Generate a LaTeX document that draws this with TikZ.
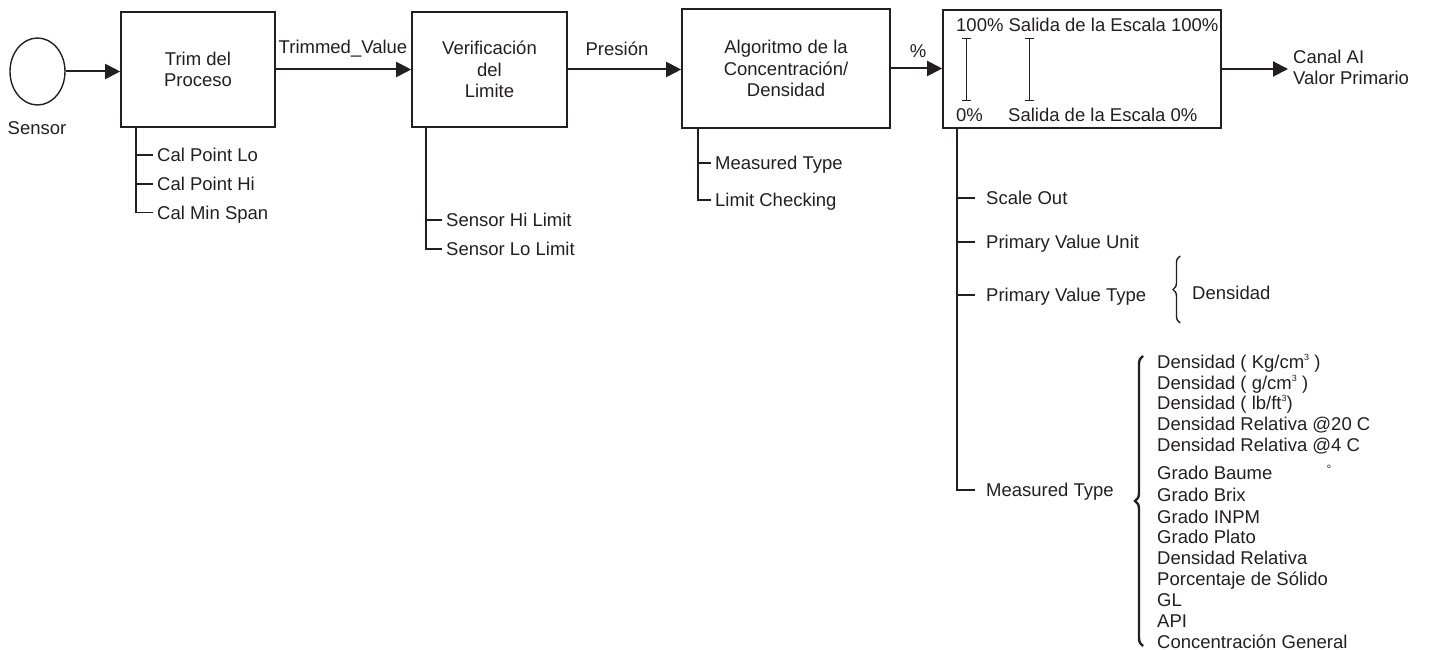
\documentclass[tikz,border=0pt]{standalone}
\usepackage{fontspec}
\setmainfont{Liberation Sans}
\usetikzlibrary{arrows.meta,decorations.pathreplacing,shapes.geometric}
\definecolor{ink}{HTML}{231F20}
\begin{document}
\begin{tikzpicture}[x=1pt,y=-1pt,
  every node/.style={font=\fontsize{18.5}{21.5}\selectfont, text=ink},
  box/.style={draw=ink, line width=1.6pt, rectangle, align=center, inner sep=0pt},
  arr/.style={draw=ink, line width=2pt, -{Triangle[length=15pt,width=15pt]}},
  branch/.style={draw=ink, line width=1.4pt},
  lbl/.style={anchor=west, inner xsep=4pt, inner ysep=0pt, text height=13pt, text depth=0pt},
  lblw/.style={anchor=west, inner xsep=11pt, inner ysep=0pt, text height=13pt, text depth=0pt},
  item/.style={anchor=west, inner sep=0pt, text height=13pt, text depth=0pt},
  ibar/.style={draw=ink, line width=0.8pt, {Bar[width=9pt]}-{Bar[width=9pt]}},
  bracestyle/.style={draw=ink, decorate}
]
\path[use as bounding box] (0,0) rectangle (1432,650);

% Sensor
\node[draw=ink, line width=1.4pt, ellipse, minimum width=55pt, minimum height=67pt, inner sep=0pt] (sensor) at (37.5,71.5) {};
\node (sensorlbl) at (37,128) {Sensor};

% Boxes
\node[box, minimum width=154pt, minimum height=115pt] (trim) at (198,69.5) {Trim del\\Proceso};
\node[box, minimum width=155pt, minimum height=115pt] (verif) at (489.5,69.5) {Verificación\\del\\Limite};
\node[box, minimum width=208pt, minimum height=119pt] (algo) at (786,68.5) {Algoritmo de la\\Concentración/\\Densidad};
\node[box, minimum width=278pt, minimum height=118pt] (scale) at (1082,69) {};

% Box 4 contents
\node[item] (top100) at (956,25) {100\% Salida de la Escala 100\%};
\node[item] (bot0) at (956,115) {0\%};
\node[item] (bot0b) at (1008,115) {Salida de la Escala 0\%};
\coordinate (ia) at (966,38);
\coordinate (ib) at (966,101);
\coordinate (ic) at (1029,38);
\coordinate (id) at (1029,101);
\draw[ibar] (ia) -- (ib);
\draw[ibar] (ic) -- (id);

% Main flow arrows
\draw[arr] (sensor.east) -- (sensor.east -| trim.west);
\draw[arr] (trim.east) -- (trim.east -| verif.west);
\draw[arr] (verif.east) -- (verif.east -| algo.west);
\draw[arr] (algo.east) -- (algo.east -| scale.west);
\coordinate (outtip) at (1288,69);
\draw[arr] (scale.east) -- (scale.east -| outtip);

\node (tv) at (343,49) {Trimmed\_Value};
\node (pres) at (617,49) {Presión};
\node (pct) at (918,51) {\%};
\node[anchor=west, align=left, inner xsep=4pt] (canal) at (1289,67.5) {Canal AI\\Valor Primario};

% Branch of box 1
\coordinate (v1) at (136,127);
\node[lbl] (cplo) at (153,155) {Cal Point Lo};
\node[lbl] (cphi) at (153,184) {Cal Point Hi};
\node[lbl] (cpms) at (153,212.5) {Cal Min Span};
\draw[branch] (v1) -- (v1 |- cpms.west) -- (cpms.west);
\draw[branch] (v1 |- cplo.west) -- (cplo.west);
\draw[branch] (v1 |- cphi.west) -- (cphi.west);

% Branch of box 2
\coordinate (v2) at (426,127);
\node[lbl] (shi) at (442,220) {Sensor Hi Limit};
\node[lbl] (slo) at (442,249) {Sensor Lo Limit};
\draw[branch] (v2) -- (v2 |- slo.west) -- (slo.west);
\draw[branch] (v2 |- shi.west) -- (shi.west);

% Branch of box 3
\coordinate (v3) at (698,128);
\node[lbl] (mt1) at (711,163) {Measured Type};
\node[lbl] (lc) at (711,200) {Limit Checking};
\draw[branch] (v3) -- (v3 |- lc.west) -- (lc.west);
\draw[branch] (v3 |- mt1.west) -- (mt1.west);

% Branch of box 4
\coordinate (v4) at (957,128);
\node[lblw] (so) at (975,198) {Scale Out};
\node[lblw] (pvu) at (975,242) {Primary Value Unit};
\node[lblw] (pvt) at (975,295) {Primary Value Type};
\node[lblw] (mt2) at (975,490) {Measured Type};
\draw[branch] (v4) -- (v4 |- mt2.west) -- (mt2.west);
\draw[branch] (v4 |- so.west) -- (so.west);
\draw[branch] (v4 |- pvu.west) -- (pvu.west);
\draw[branch] (v4 |- pvt.west) -- (pvt.west);

% Small brace
\coordinate (sb1) at (1180,323);
\coordinate (sb2) at (1180,256);
\draw[bracestyle, line width=1.4pt, decoration={brace, amplitude=7pt}] (sb1) -- (sb2);
\node[item] (dens) at (1192,293) {Densidad};

% Big brace
\coordinate (bb1) at (1143,646);
\coordinate (bb2) at (1143,356);
\draw[bracestyle, line width=2.4pt, decoration={brace, amplitude=8pt}] (bb1) -- (bb2);

\newcommand{\supthree}{\raisebox{8pt}{\fontsize{9}{9}\selectfont 3}}
\node[item] (m1) at (1157,362) {Densidad ( Kg/cm\supthree\ )};
\node[item] (m2) at (1157,383) {Densidad ( g/cm\supthree\ )};
\node[item] (m3) at (1157,403) {Densidad ( lb/ft\supthree)};
\node[item] (m4) at (1157,424) {Densidad Relativa @20 C};
\node[item] (m5) at (1157,445) {Densidad Relativa @4 C};
\node[inner sep=0pt, font=\fontsize{12}{12}\selectfont] (deg) at (1329,469) {°};
\node[item] (m6) at (1157,473) {Grado Baume};
\node[item] (m7) at (1157,495) {Grado Brix};
\node[item] (m8) at (1157,517) {Grado INPM};
\node[item] (m9) at (1157,537) {Grado Plato};
\node[item] (m10) at (1157,558) {Densidad Relativa};
\node[item] (m11) at (1157,579) {Porcentaje de Sólido};
\node[item] (m12) at (1157,600) {GL};
\node[item] (m13) at (1157,621) {API};
\node[item] (m14) at (1157,642) {Concentración General};
\end{tikzpicture}
\end{document}
